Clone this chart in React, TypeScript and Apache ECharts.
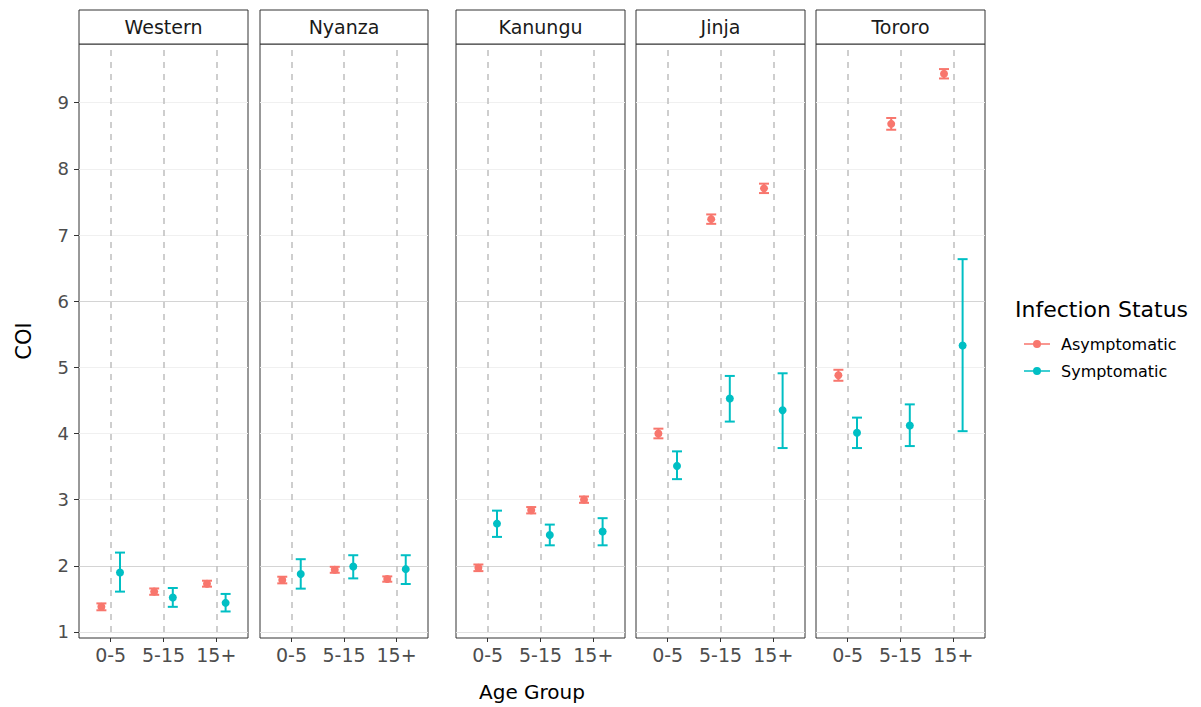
import React, { useEffect, useRef } from "react";
import * as echarts from "echarts";

const regions = ["Western", "Nyanza", "Kanungu", "Jinja", "Tororo"];
const ageGroups = ["0-5", "5-15", "15+"];
const yTicks = [1, 2, 3, 4, 5, 6, 7, 8, 9];
const statusNames = ["Asymptomatic", "Symptomatic"];

// rows: regions; columns: age groups
const asymMean = [
  [1.38, 1.61, 1.73],
  [1.785, 1.94, 1.8],
  [1.97, 2.84, 3.0],
  [4.0, 7.24, 7.705],
  [4.88, 8.68, 9.437],
];
const asymLower = [
  [1.328, 1.562, 1.685],
  [1.735, 1.895, 1.76],
  [1.92, 2.792, 2.952],
  [3.927, 7.169, 7.634],
  [4.797, 8.591, 9.366],
];
const asymUpper = [
  [1.432, 1.658, 1.775],
  [1.835, 1.985, 1.84],
  [2.02, 2.888, 3.048],
  [4.073, 7.311, 7.776],
  [4.963, 8.769, 9.508],
];
const symMean = [
  [1.9, 1.52, 1.44],
  [1.876, 1.99, 1.95],
  [2.638, 2.467, 2.518],
  [3.51, 4.53, 4.35],
  [4.01, 4.12, 5.33],
];
const symLower = [
  [1.61, 1.38, 1.31],
  [1.655, 1.81, 1.725],
  [2.437, 2.31, 2.31],
  [3.31, 4.18, 3.78],
  [3.78, 3.81, 4.035],
];
const symUpper = [
  [2.2, 1.665, 1.575],
  [2.1, 2.16, 2.16],
  [2.834, 2.623, 2.72],
  [3.73, 4.87, 4.91],
  [4.24, 4.44, 6.635],
];

const COLORS = ["#F8766D", "#00BFC4"];
const FONT = "DejaVu Sans";
const panelLefts = [79, 260, 456, 636, 816];
const panelWidths = [169, 168, 169, 169, 169];
const PANEL_TOP = 44;
const PANEL_H = 594;
const STRIP_TOP = 10;
const DODGE = 0.176;
const Y_MIN = 0.909;
const Y_MAX = 9.887;

const gridColors = yTicks.map((v) =>
  v === 2 || v === 6 ? "#D4D4D4" : v === 1 ? "#E2E2E2" : "#F0F0F0"
);

function makeErrorRender(color: string) {
  return (params: any, api: any) => {
    const x = api.value(0);
    const lo = api.coord([x, api.value(1)]);
    const hi = api.coord([x, api.value(2)]);
    const hw = 5;
    const style = { stroke: color, lineWidth: 2, fill: "none" };
    return {
      type: "group",
      children: [
        { type: "line", shape: { x1: lo[0], y1: lo[1], x2: hi[0], y2: hi[1] }, style },
        { type: "line", shape: { x1: lo[0] - hw, y1: lo[1], x2: lo[0] + hw, y2: lo[1] }, style },
        { type: "line", shape: { x1: hi[0] - hw, y1: hi[1], x2: hi[0] + hw, y2: hi[1] }, style },
      ],
    };
  };
}

export default function App() {
  const ref = useRef<HTMLDivElement>(null);
  useEffect(() => {
    if (!ref.current) return;
    const chart = echarts.init(ref.current, undefined, { renderer: "svg" });

    const grids = regions.map((_, i) => ({
      left: panelLefts[i],
      top: PANEL_TOP,
      width: panelWidths[i],
      height: PANEL_H,
      show: true,
      borderColor: "#333333",
      borderWidth: 1,
      backgroundColor: "transparent",
      containLabel: false,
      outerBoundsMode: "none",
    }));

    const xAxes = regions.map((_, i) => ({
      type: "value",
      gridIndex: i,
      min: 0.4,
      max: 3.6,
      axisLine: { show: false },
      axisTick: {
        show: true,
        customValues: [1, 2, 3],
        length: 4,
        lineStyle: { color: "#333333", width: 1 },
      },
      axisLabel: {
        show: true,
        customValues: [1, 2, 3],
        formatter: (v: number) => ageGroups[Math.round(v) - 1] ?? "",
        fontSize: 19,
        fontFamily: FONT,
        color: "#4D4D4D",
        margin: 7,
      },
      splitLine: {
        show: true,
        lineStyle: { color: "#BEBEBE", width: 1.5, type: [6, 6], dashOffset: 6 },
      },
    }));

    const yAxes = regions.map((_, i) => ({
      type: "value",
      gridIndex: i,
      min: Y_MIN,
      max: Y_MAX,
      axisLine: { show: false },
      axisTick: {
        show: i === 0,
        customValues: yTicks,
        length: 5,
        lineStyle: { color: "#333333", width: 1 },
      },
      axisLabel: {
        show: i === 0,
        customValues: yTicks,
        fontSize: 18,
        fontFamily: FONT,
        color: "#4D4D4D",
        margin: 10,
      },
      splitLine: {
        show: true,
        lineStyle: { color: gridColors, width: 1 },
      },
      name: i === 0 ? "COI" : "",
      nameLocation: "middle",
      nameGap: 45,
      nameRotate: 90,
      nameTextStyle: { fontSize: 21, fontFamily: FONT, color: "#000000" },
    }));

    const series: any[] = [];
    regions.forEach((_, r) => {
      const groups = [
        { mean: asymMean[r], lo: asymLower[r], hi: asymUpper[r], off: -DODGE },
        { mean: symMean[r], lo: symLower[r], hi: symUpper[r], off: DODGE },
      ];
      groups.forEach((g, s) => {
        series.push({
          type: "scatter",
          name: statusNames[s],
          xAxisIndex: r,
          yAxisIndex: r,
          symbol: "circle",
          symbolSize: 8,
          itemStyle: { color: COLORS[s], opacity: 1 },
          data: ageGroups.map((_, k) => [k + 1 + g.off, g.mean[k]]),
          z: 4,
          silent: true,
        });
        series.push({
          type: "custom",
          name: statusNames[s],
          xAxisIndex: r,
          yAxisIndex: r,
          renderItem: makeErrorRender(COLORS[s]),
          itemStyle: { color: COLORS[s] },
          encode: { x: 0, y: [1, 2] },
          data: ageGroups.map((_, k) => [k + 1 + g.off, g.lo[k], g.hi[k]]),
          z: 3,
          silent: true,
        });
      });
    });

    const legendIcon =
      "path://M0,4.3L9.2,4.3L9.2,5.7L0,5.7Z M16.8,4.3L26,4.3L26,5.7L16.8,5.7Z M9,5A4,4,0,1,1,17,5A4,4,0,1,1,9,5Z";

    const graphics: any[] = [];
    regions.forEach((name, i) => {
      graphics.push({
        type: "rect",
        shape: { x: panelLefts[i], y: STRIP_TOP, width: panelWidths[i], height: PANEL_TOP - STRIP_TOP },
        style: { fill: "#FFFFFF", stroke: "#333333", lineWidth: 1 },
        z: 10,
      });
      graphics.push({
        type: "text",
        x: panelLefts[i] + panelWidths[i] / 2,
        y: (STRIP_TOP + PANEL_TOP) / 2,
        style: {
          text: name,
          font: `19px '${FONT}'`,
          fill: "#1A1A1A",
          align: "center",
          verticalAlign: "middle",
          textAlign: "center",
          textVerticalAlign: "middle",
        },
        z: 11,
      });
    });
    graphics.push({
      type: "text",
      x: 532,
      y: 692,
      style: {
        text: "Age Group",
        font: `20px '${FONT}'`,
        fill: "#000000",
        align: "center",
        verticalAlign: "middle",
        textAlign: "center",
        textVerticalAlign: "middle",
      },
    });
    graphics.push({
      type: "text",
      x: 1015,
      y: 309,
      style: {
        text: "Infection Status",
        font: `22px '${FONT}'`,
        fill: "#000000",
        align: "left",
        verticalAlign: "middle",
        textAlign: "left",
        textVerticalAlign: "middle",
      },
    });

    chart.setOption({
      animation: false,
      backgroundColor: "#FFFFFF",
      textStyle: { fontFamily: FONT },
      grid: grids,
      xAxis: xAxes,
      yAxis: yAxes,
      series,
      legend: {
        orient: "vertical",
        left: 1019,
        top: 331,
        itemWidth: 26,
        itemHeight: 10,
        itemGap: 11,
        selectedMode: false,
        data: statusNames.map((n, s) => ({
          name: n,
          icon: legendIcon,
          itemStyle: { color: COLORS[s], borderWidth: 0 },
        })),
        textStyle: {
          fontSize: 16,
          fontFamily: FONT,
          color: "#000000",
          lineHeight: 16,
          padding: [0, 0, 0, 6],
        },
      },
      graphic: graphics,
    });

    return () => chart.dispose();
  }, []);

  return (
    <div
      ref={ref}
      style={{ position: "absolute", left: 0, top: 0, width: 1201, height: 707 }}
    />
  );
}
